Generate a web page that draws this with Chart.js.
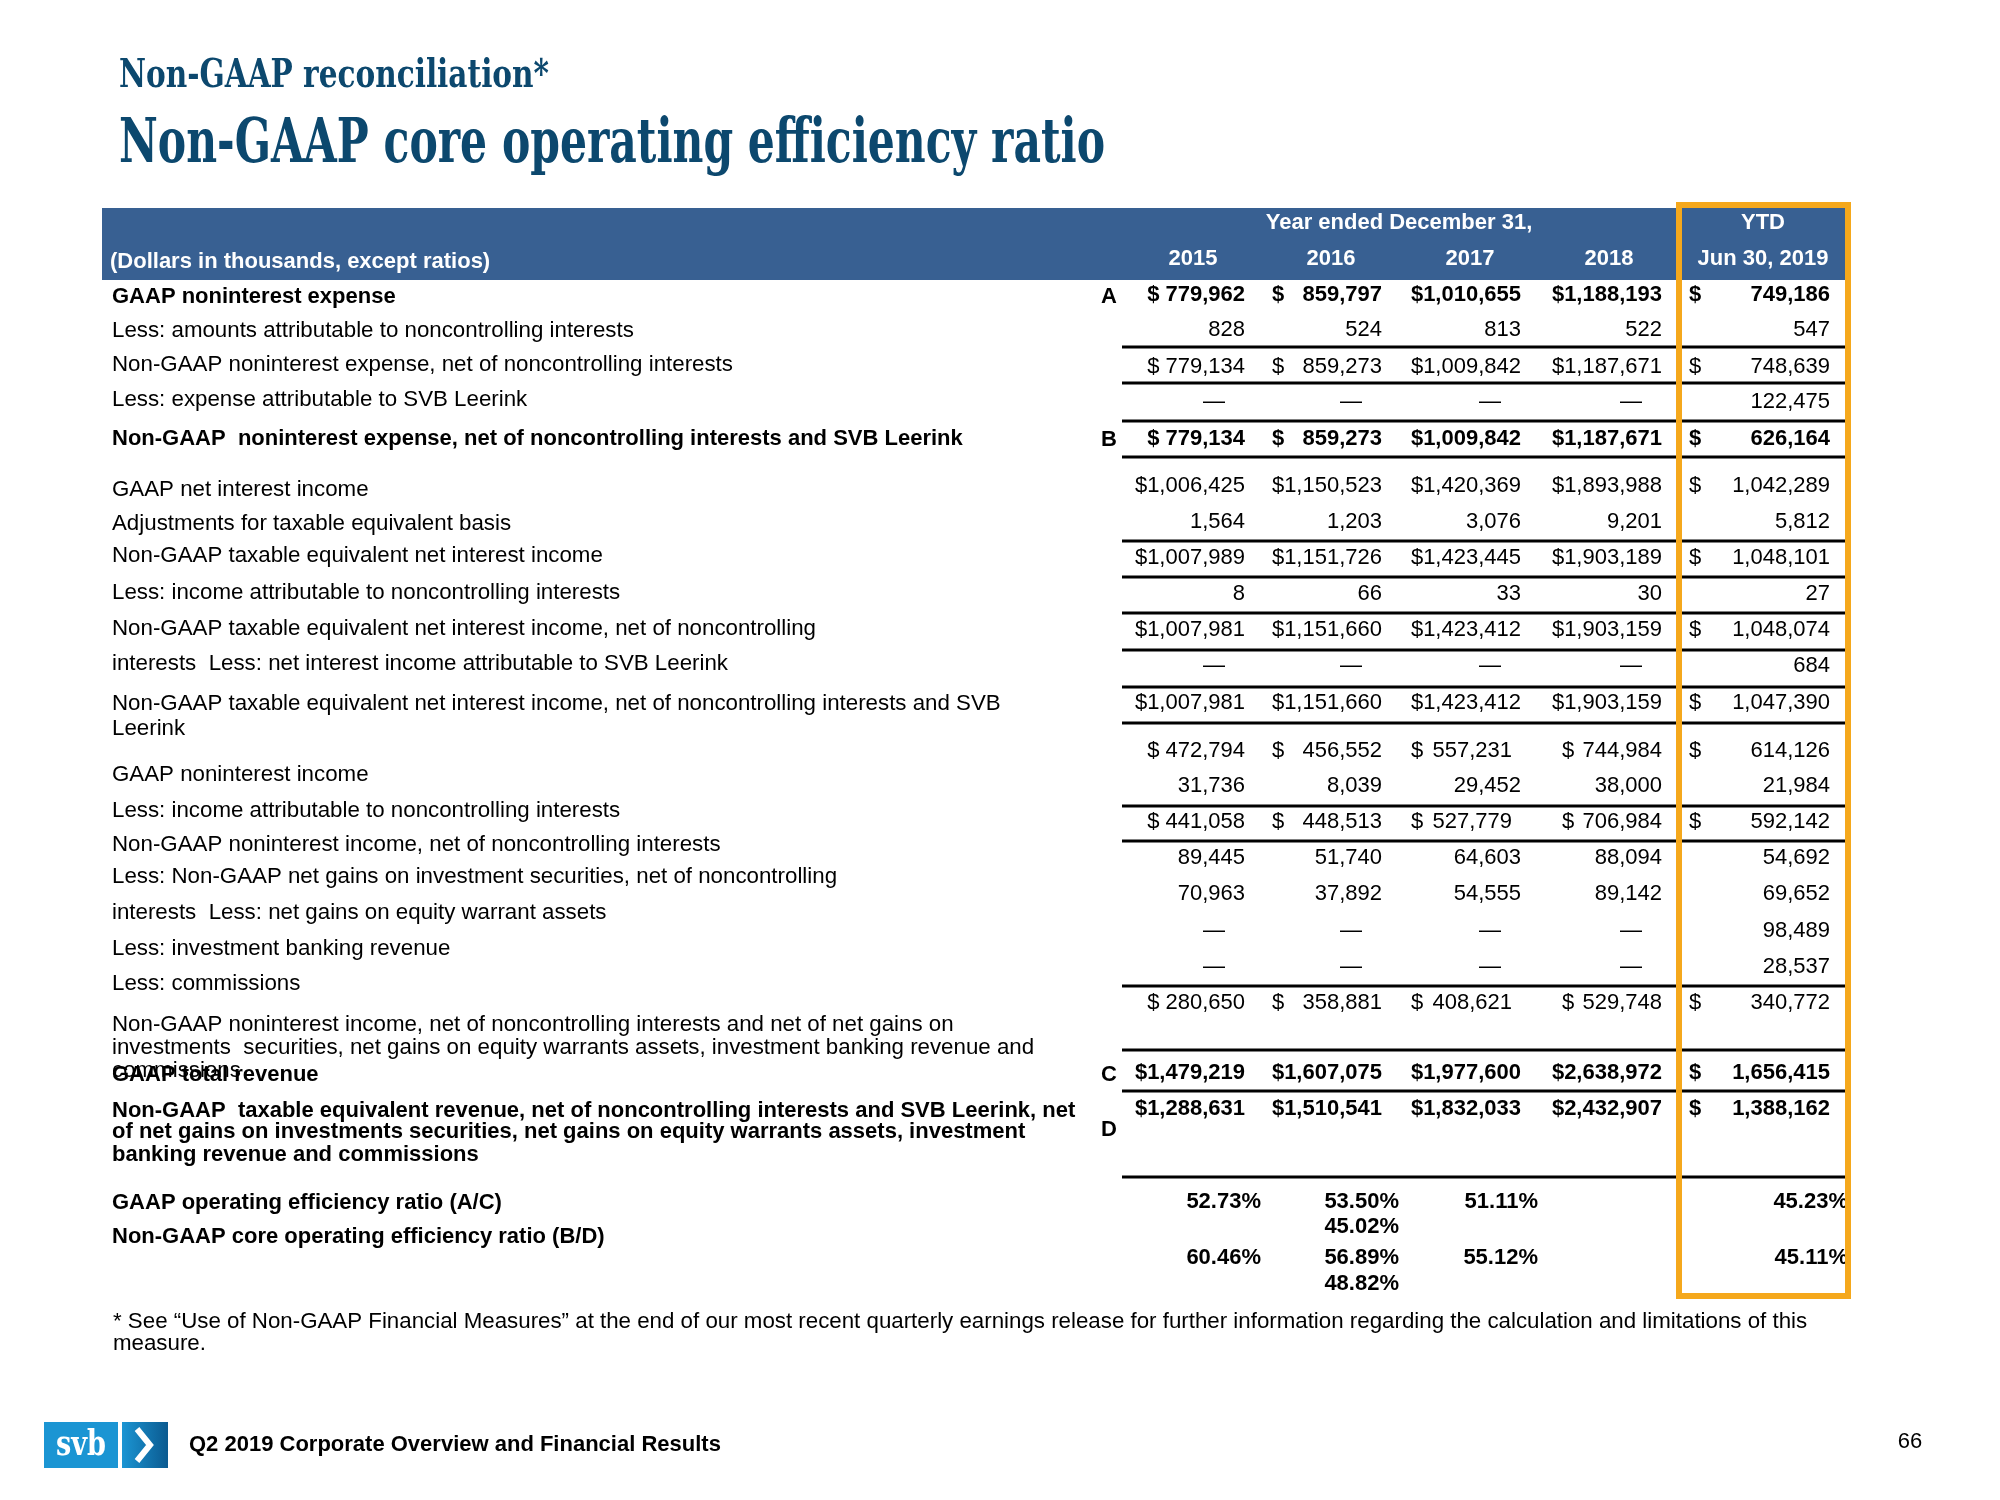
<!DOCTYPE html>
<html>
<head>
<meta charset="utf-8">
<script src="https://cdn.jsdelivr.net/npm/chart.js@4.4.1/dist/chart.umd.min.js"></script>
<style>
html, body { margin: 0; padding: 0; background: #fff; }
#wrap { width: 2000px; height: 1500px; position: relative; }
</style>
</head>
<body>
<div id="wrap"><canvas id="slide"></canvas></div>
<script>
(function () {
    "use strict";

    // header texts
    var subTitle = "Non-GAAP reconciliation*";
    var mainTitle = "Non-GAAP core operating efficiency ratio";
    var periodLabel = "Year ended December 31,";
    var unitsLabel = "(Dollars in thousands, except ratios)";
    var years = ["2015", "2016", "2017", "2018"];
    var ytdTop = "YTD";
    var ytdLabel = "Jun 30, 2019";

    var rowLabels = [
        ["GAAP noninterest expense"],
        ["Less: amounts attributable to noncontrolling interests"],
        ["Non-GAAP noninterest expense, net of noncontrolling interests"],
        ["Less: expense attributable to SVB Leerink"],
        ["Non-GAAP  noninterest expense, net of noncontrolling interests and SVB Leerink"],
        ["GAAP net interest income"],
        ["Adjustments for taxable equivalent basis"],
        ["Non-GAAP taxable equivalent net interest income"],
        ["Less: income attributable to noncontrolling interests"],
        ["Non-GAAP taxable equivalent net interest income, net of noncontrolling"],
        ["interests  Less: net interest income attributable to SVB Leerink"],
        ["Non-GAAP taxable equivalent net interest income, net of noncontrolling interests and SVB", "Leerink"],
        ["GAAP noninterest income"],
        ["Less: income attributable to noncontrolling interests"],
        ["Non-GAAP noninterest income, net of noncontrolling interests"],
        ["Less: Non-GAAP net gains on investment securities, net of noncontrolling"],
        ["interests  Less: net gains on equity warrant assets"],
        ["Less: investment banking revenue"],
        ["Less: commissions"],
        ["Non-GAAP noninterest income, net of noncontrolling interests and net of net gains on",
         "investments  securities, net gains on equity warrants assets, investment banking revenue and",
         "commissions"],
        ["GAAP total revenue"],
        ["Non-GAAP  taxable equivalent revenue, net of noncontrolling interests and SVB Leerink, net",
         "of net gains on investments securities, net gains on equity warrants assets, investment",
         "banking revenue and commissions"]
    ];

    // null = dash
    var v2015 = [779962, 828, 779134, null, 779134, 1006425, 1564, 1007989, 8, 1007981, null, 1007981,
        472794, 31736, 441058, 89445, 70963, null, null, 280650, 1479219, 1288631];
    var v2016 = [859797, 524, 859273, null, 859273, 1150523, 1203, 1151726, 66, 1151660, null, 1151660,
        456552, 8039, 448513, 51740, 37892, null, null, 358881, 1607075, 1510541];
    var v2017 = [1010655, 813, 1009842, null, 1009842, 1420369, 3076, 1423445, 33, 1423412, null, 1423412,
        557231, 29452, 527779, 64603, 54555, null, null, 408621, 1977600, 1832033];
    var v2018 = [1188193, 522, 1187671, null, 1187671, 1893988, 9201, 1903189, 30, 1903159, null, 1903159,
        744984, 38000, 706984, 88094, 89142, null, null, 529748, 2638972, 2432907];
    var vYtd = [749186, 547, 748639, 122475, 626164, 1042289, 5812, 1048101, 27, 1048074, 684, 1047390,
        614126, 21984, 592142, 54692, 69652, 98489, 28537, 340772, 1656415, 1388162];

    var ratioLabels = ["GAAP operating efficiency ratio (A/C)", "Non-GAAP core operating efficiency ratio (B/D)"];
    var gaapRatio = [52.73, 53.50, 51.11, 45.02, 45.23];
    var coreRatio = [60.46, 56.89, 55.12, 48.82, 45.11];

    var boldRows = [0, 4, 20, 21];
    var dollarRows = [0, 2, 4, 5, 7, 9, 11, 12, 14, 19, 20, 21];
    var refLetters = ["A", "B", "C", "D"];

    var footnote = ["* See \u201cUse of Non-GAAP Financial Measures\u201d at the end of our most recent quarterly earnings release for further information regarding the calculation and limitations of this",
        "measure."];
    var footerText = "Q2 2019 Corporate Overview and Financial Results";
    var pageNo = "66";

    // layout (pixels on the 2000x1500 slide)
    var labelY = [[296], [330], [364], [399], [438], [489], [523], [555], [592], [628], [663], [703, 728],
        [774], [810], [844], [876], [912], [948], [983], [1024, 1047, 1070], [1074], [1110, 1131, 1154]];
    var valueY = [294, 329, 366, 401, 438, 485, 521, 557, 593, 629, 665, 702,
        750, 785, 821, 857, 893, 930, 966, 1002, 1072, 1108];
    var letterPos = [[1101, 296], [1101, 439], [1101, 1074], [1101, 1129]];
    var ruleY = [347, 383, 421, 457, 541, 577, 613, 650, 687, 723, 806, 841, 986, 1050, 1091, 1177];
    var colRight = [1245, 1382, 1521, 1662, 1830];
    var dollarX = [null, 1272, 1411, 1562, 1689];
    var shortShift = [0, 0, -9, 0, 0];
    var headCenter = [1193, 1331, 1470, 1609, 1763];
    var ratioRight = [1261, 1399, 1538, 1399, 1848];
    var ratioY = [[1201, 1201, 1201, 1226, 1201], [1257, 1257, 1257, 1283, 1257]];
    var textDy = 1.3;

    var SANS = "'Liberation Sans', Arial, sans-serif";
    var SLAB = "'DejaVu Serif Condensed', 'DejaVu Serif', serif";
    var columns = [v2015, v2016, v2017, v2018, vYtd];

    function fmt(n) {
        return n.toLocaleString("en-US");
    }

    var slidePlugin = {
        id: "slideTable",
        beforeDraw: function (chart) {
            var ctx = chart.ctx;
            ctx.save();
            ctx.fillStyle = "#ffffff";
            ctx.fillRect(0, 0, chart.width, chart.height);
            ctx.restore();
        },
        afterDraw: function (chart) {
            var ctx = chart.ctx;
            var sx = chart.scales.x, sy = chart.scales.y;
            var X = function (v) { return sx.getPixelForValue(v); };
            var Y = function (v) { return sy.getPixelForValue(v); };

            function text(str, x, y, font, color, align) {
                ctx.font = font;
                ctx.fillStyle = color || "#000";
                ctx.textAlign = align || "left";
                ctx.textBaseline = "middle";
                ctx.fillText(str, X(x), Y(y + textDy));
            }
            function fitText(str, x, y, w, font, color) {
                ctx.save();
                ctx.font = font;
                ctx.fillStyle = color;
                ctx.textAlign = "left";
                ctx.textBaseline = "alphabetic";
                var m = ctx.measureText(str).width;
                ctx.translate(X(x), Y(y));
                ctx.scale((X(x + w) - X(x)) / m, 1);
                ctx.fillText(str, 0, 0);
                ctx.restore();
            }

            ctx.save();

            // titles
            fitText(subTitle, 119, 87, 430, "bold 40px " + SLAB, "#0c486e");
            fitText(mainTitle, 119, 162, 986, "bold 62px " + SLAB, "#0c486e");

            // header band
            ctx.fillStyle = "#386092";
            ctx.fillRect(X(102), Y(208), X(1846) - X(102), Y(280) - Y(208));
            var hf = "bold 22px " + SANS;
            text(periodLabel, 1399, 222, hf, "#fff", "center");
            text(ytdTop, headCenter[4], 222, hf, "#fff", "center");
            years.forEach(function (yr, i) {
                text(yr, headCenter[i], 258, hf, "#fff", "center");
            });
            text(ytdLabel, headCenter[4], 258, hf, "#fff", "center");
            text(unitsLabel, 110, 261, hf, "#fff", "left");

            // row labels
            rowLabels.forEach(function (lines, r) {
                var bold = boldRows.indexOf(r) >= 0;
                var f = bold ? "bold 22px " + SANS : "22.3px " + SANS;
                lines.forEach(function (ln, k) {
                    text(ln, 112, labelY[r][k], f, "#000", "left");
                });
            });

            // values
            columns.forEach(function (col, c) {
                col.forEach(function (val, r) {
                    var bold = boldRows.indexOf(r) >= 0;
                    var f = (bold ? "bold " : "") + "22px " + SANS;
                    var y = valueY[r];
                    var right = colRight[c];
                    if (val === null) {
                        text("\u2014", right - 20, y, f, "#000", "right");
                        return;
                    }
                    var s = fmt(val);
                    if (dollarRows.indexOf(r) >= 0) {
                        if (dollarX[c] === null) {
                            s = (val >= 1000000 ? "$" : "$ ") + s;
                        } else if (c < 4 && val >= 1000000) {
                            s = "$" + s;
                        } else {
                            text("$", dollarX[c], y, f, "#000", "left");
                            if (val < 1000000) right += shortShift[c];
                        }
                    }
                    text(s, right, y, f, "#000", "right");
                });
            });

            // reference letters
            refLetters.forEach(function (l, i) {
                text(l, letterPos[i][0], letterPos[i][1], "bold 22px " + SANS, "#000", "left");
            });

            // rules
            ctx.strokeStyle = "#000";
            ctx.lineWidth = 3;
            ruleY.forEach(function (ry) {
                ctx.beginPath();
                ctx.moveTo(X(1122), Y(ry));
                ctx.lineTo(X(1846), Y(ry));
                ctx.stroke();
            });

            // ratio rows
            var rf = "bold 22px " + SANS;
            text(ratioLabels[0], 112, 1202, rf, "#000", "left");
            text(ratioLabels[1], 112, 1236, rf, "#000", "left");
            [gaapRatio, coreRatio].forEach(function (arr, k) {
                arr.forEach(function (v, c) {
                    text(v.toFixed(2) + "%", ratioRight[c], ratioY[k][c], rf, "#000", "right");
                });
            });

            // YTD highlight box
            ctx.strokeStyle = "#f5a81c";
            ctx.lineWidth = 6;
            ctx.strokeRect(X(1679), Y(205), X(1848) - X(1679), Y(1296) - Y(205));

            // footnote
            text(footnote[0], 113, 1321, "22.3px " + SANS, "#000", "left");
            text(footnote[1], 113, 1343, "22.3px " + SANS, "#000", "left");

            // footer logo
            ctx.fillStyle = "#1b95d3";
            ctx.fillRect(X(44), Y(1422), X(118) - X(44), Y(1468) - Y(1422));
            var g = ctx.createLinearGradient(X(122), 0, X(168), 0);
            g.addColorStop(0, "#1b95d3");
            g.addColorStop(1, "#0b5a90");
            ctx.fillStyle = g;
            ctx.fillRect(X(122), Y(1422), X(168) - X(122), Y(1468) - Y(1422));
            fitText("svb", 56, 1455, 50, "bold 36px " + SLAB, "#fff");
            ctx.strokeStyle = "#fff";
            ctx.lineWidth = 6;
            ctx.lineJoin = "miter";
            ctx.beginPath();
            ctx.moveTo(X(137), Y(1429));
            ctx.lineTo(X(150), Y(1445));
            ctx.lineTo(X(137), Y(1461));
            ctx.stroke();

            text(footerText, 189, 1444, "bold 22px " + SANS, "#000", "left");
            text(pageNo, 1910, 1441, "22px " + SANS, "#000", "center");

            ctx.restore();
        }
    };

    var ctxSlide = document.getElementById("slide").getContext("2d");
    new Chart(ctxSlide, {
        type: "scatter",
        data: { datasets: [{ data: [], pointRadius: 0 }] },
        options: {
            responsive: true,
            maintainAspectRatio: false,
            animation: false,
            layout: { padding: 0 },
            scales: {
                x: { type: "linear", min: 0, max: 2000, display: false },
                y: { type: "linear", min: 0, max: 1500, reverse: true, display: false }
            },
            plugins: { legend: { display: false }, tooltip: { enabled: false } }
        },
        plugins: [slidePlugin]
    });
})();
</script>
</body>
</html>
